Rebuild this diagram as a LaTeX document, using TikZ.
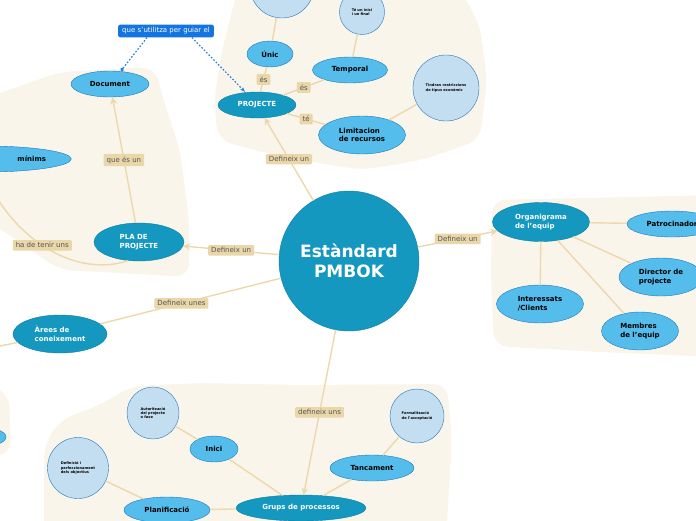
\documentclass[tikz,border=0pt]{standalone}
\usepackage{fontspec}
\setmainfont{DejaVu Sans}
\usetikzlibrary{shapes.geometric,arrows.meta}
\definecolor{blobfill}{HTML}{FAF5EA}
\definecolor{topicfill}{HTML}{1498BF}
\definecolor{topicline}{HTML}{0E7EA4}
\definecolor{leaffill}{HTML}{55BDEB}
\definecolor{leafline}{HTML}{1C78BE}
\definecolor{notefill}{HTML}{C4DEF1}
\definecolor{tagfill}{HTML}{E9D6A9}
\definecolor{tagtext}{HTML}{555555}
\definecolor{linkcol}{HTML}{EDD8AC}
\definecolor{guidefill}{HTML}{1474E0}
\definecolor{guideline}{HTML}{2A80E2}
\begin{document}
\begin{tikzpicture}[x=1pt, y=-1pt,
    every node/.style={inner sep=0pt, font=\fontsize{7}{8.5}\selectfont\bfseries},
    hub/.style={circle, fill=topicfill, draw=topicline, text=white, minimum size=140pt, align=center, font=\fontsize{17}{20}\selectfont\bfseries},
    topic/.style={ellipse, fill=topicfill, draw=topicline, text=white, align=left},
    leaf/.style={ellipse, fill=leaffill, draw=leafline, text=black, align=left},
    note/.style={circle, fill=notefill, draw=leafline, align=left, font=\fontsize{3.6}{4.4}\selectfont\bfseries},
    tag/.style={fill=tagfill, text=tagtext, inner xsep=3pt, inner ysep=2.5pt, rounded corners=1pt, font=\fontsize{7}{8.5}\selectfont},
    guide/.style={fill=guidefill, text=white, inner xsep=4pt, inner ysep=3pt, rounded corners=2pt, font=\fontsize{7}{8.5}\selectfont},
    link/.style={draw=linkcol, line width=1.4pt},
    defarrow/.style={link, -{Stealth[length=7pt, width=7pt]}},
    guideline/.style={draw=guideline, dash pattern=on 1.6pt off 1.8pt, line width=1.2pt},
    blob/.style={fill=blobfill, rounded corners=14pt}]
    \useasboundingbox (0,0) rectangle (696,520);

    \fill[blob] (240,-20) -- (222,50) -- (214,100) -- (218,140) -- (262,152) -- (312,162) -- (362,170) -- (422,160) -- (480,140) -- (487,80) -- (480,25) -- (455,-20) -- cycle;
    \fill[blob] (-20,100) -- (60,72) -- (155,67) -- (162,95) -- (180,150) -- (189,220) -- (189,277) -- (120,273) -- (60,270) -- (-20,215) -- cycle;
    \fill[blob] (492,200) -- (720,195) -- (720,357) -- (600,352) -- (494,346) -- (491,280) -- cycle;
    \fill[blob] (44,445) -- (60,420) -- (100,405) -- (132,386) -- (200,383) -- (300,385) -- (447,384) -- (452,440) -- (446,540) -- (44,540) -- cycle;
    \fill[blob] (-20,384) -- (9,392) -- (11,455) -- (-20,456) -- cycle;

    \node[hub] (pmbok) at (349,261) {Estàndard\\PMBOK};

    \node[topic, minimum width=78pt, minimum height=26pt] (projecte) at (257,105) {PROJECTE};
    \node[leaf, minimum width=46pt, minimum height=26pt] (unic) at (270,54) {Únic};
    \node[leaf, minimum width=75pt, minimum height=26pt] (temporal) at (350,70) {Temporal};
    \node[leaf, minimum width=87pt, minimum height=38pt] (recursos) at (362,135) {Limitacion\\de recursos};
    \node[note, minimum size=64pt] (unicnote) at (282,-14) {};
    \node[note, minimum size=45pt] (inici) at (362,12) {Té un inici\\i un final};
    \node[note, minimum size=66pt] (restriccions) at (446,88) {Tindran restriccions\\de tipus econòmic};

    \node[guide] (guia) at (166,31) {que s'utilitza per guiar el};
    \node[leaf, minimum width=78pt, minimum height=26pt] (document) at (110,84) {Document};
    \node[topic, minimum width=90pt, minimum height=38pt] (pla) at (139,242) {PLA DE\\PROJECTE};
    \node[leaf, minimum width=140pt, minimum height=26pt, text width=122pt, align=right] (minims) at (-15,159) {mínims};
    \node[topic, minimum width=94pt, minimum height=38pt] (arees) at (60,334) {Àrees de\\coneixement};
    \node[leaf, minimum width=52pt, minimum height=20pt] (leftleaf) at (-20,437) {};
    \coordinate (areesout) at (-20,350);

    \node[topic, minimum width=97pt, minimum height=39pt] (organigrama) at (541,222) {Organigrama\\de l'equip};
    \node[leaf, minimum width=90pt, minimum height=26pt] (patrocinador) at (672,224) {Patrocinador};
    \node[leaf, minimum width=84pt, minimum height=38pt] (director) at (661,277) {Director de\\projecte};
    \node[leaf, minimum width=87pt, minimum height=38pt] (interessats) at (540,304) {Interessats\\/Clients};
    \node[leaf, minimum width=77pt, minimum height=38pt] (membres) at (640,331) {Membres\\de l'equip};

    \node[topic, minimum width=130pt, minimum height=26pt] (grups) at (301,508) {Grups de processos};
    \node[leaf, minimum width=48pt, minimum height=26pt] (inicinode) at (214,449) {Inici};
    \node[leaf, minimum width=84pt, minimum height=26pt] (tancament) at (372,468) {Tancament};
    \node[leaf, minimum width=86pt, minimum height=26pt] (planificacio) at (167,510) {Planificació};
    \node[note, minimum size=52pt] (autoritzacio) at (153,413) {Autorització\\del projecte\\o fase};
    \node[note, minimum size=54pt] (formalitzacio) at (417,416) {Formalització\\de l'acceptació};
    \node[note, minimum size=61pt] (definicio) at (78,468) {Definició i\\perfeccionament\\dels objectius};

    \draw[defarrow] (pmbok) -- node[tag] {Defineix un} (projecte);
    \draw[link] (projecte) -- node[tag] {és} (unic);
    \draw[link] (projecte) -- node[tag] {és} (temporal);
    \draw[link] (projecte) -- node[tag] {té} (recursos);
    \draw[link] (unic) -- (unicnote);
    \draw[link] (temporal) -- (inici);
    \draw[link] (recursos) -- (restriccions);

    \draw[guideline, -{Circle[length=3.5pt]}] ([xshift=-19pt]guia.south) -- ([xshift=11pt]document.north);
    \draw[guideline, -{Stealth[length=5pt]}] ([xshift=26pt]guia.south) -- ([xshift=-12pt]projecte.north);

    \draw[defarrow] (pmbok) -- node[tag] {Defineix un} (pla);
    \draw[defarrow] (pla) -- node[tag] {que és un} (document);
    \draw[link] (pla.240) .. controls (70,280) and (5,230) .. node[tag, pos=0.5] {ha de tenir uns} (minims.south);
    \draw[link] (pmbok) -- node[tag, pos=0.55] {Defineix unes} (arees);
    \draw[link] (arees) -- (areesout);

    \draw[defarrow] (pmbok) -- node[tag] {Defineix un} (organigrama);
    \draw[link] (organigrama) -- (patrocinador);
    \draw[link] (organigrama) -- (director);
    \draw[link] (organigrama) -- (interessats);
    \draw[link] (organigrama) -- (membres);

    \draw[defarrow] (pmbok) -- node[tag] {defineix uns} (grups);
    \draw[link] (grups) -- (inicinode);
    \draw[link] (grups) -- (tancament);
    \draw[link] (grups) -- (planificacio);
    \draw[link] (inicinode) -- (autoritzacio);
    \draw[link] (tancament) -- (formalitzacio);
    \draw[link] (planificacio) -- (definicio);
\end{tikzpicture}
\end{document}
